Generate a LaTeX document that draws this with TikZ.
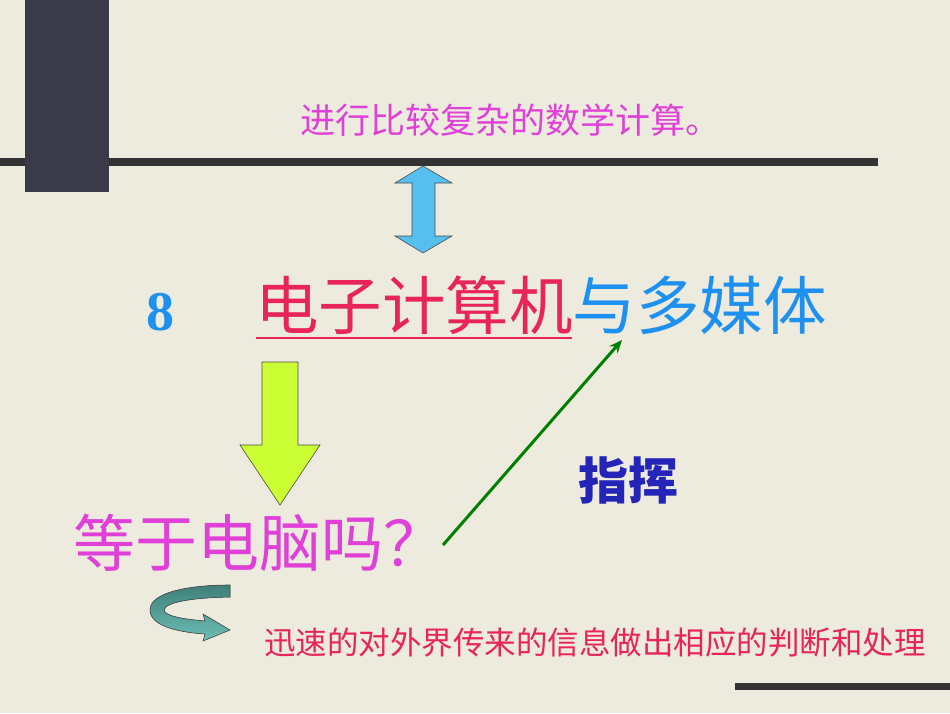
\documentclass[tikz,border=0pt]{standalone}
\usepackage{fontspec}
\usetikzlibrary{arrows.meta}
\newfontfamily\cjk{Noto Sans CJK SC}
\newfontfamily\serifb{Liberation Serif}
\begin{document}
\begin{tikzpicture}[x=1pt,y=-1pt,
  txt/.style={inner sep=0pt,font=\cjk}]
\definecolor{bg}{HTML}{ECEBDD}
\definecolor{mag}{HTML}{E040D8}
\definecolor{rd}{HTML}{E8245A}
\definecolor{bl}{HTML}{1E90F0}
\definecolor{skyb}{HTML}{55BFEF}
\definecolor{lime}{HTML}{CCFF33}
\definecolor{teal1}{HTML}{6CBFB5}
\definecolor{teal2}{HTML}{3F7F7A}
\definecolor{ind}{HTML}{2424B8}
\definecolor{blk}{HTML}{3A3A48}
\fill[bg] (0,0) rectangle (950,713);
\useasboundingbox (0,0) rectangle (950,713);
\fill[black!80] (0,158) rectangle (878,166);
\fill[black!80] (735,683) rectangle (950,690);
\fill[blk] (25,0) rectangle (109,192);
\node[txt,text=mag,font=\cjk\fontsize{35}{36}\selectfont] (t1) at (510,120) {进行比较复杂的数学计算。};
% double arrow
\filldraw[fill=skyb,draw=black!70,line width=0.6pt] (423,166) -- (452,183) -- (435,183) -- (435,236) -- (452,236) -- (423,253) -- (395,236) -- (412,236) -- (412,183) -- (395,183) -- cycle;
\node[inner sep=0pt,text=bl,font=\serifb\bfseries\fontsize{56}{56}\selectfont] (eight) at (160,312) {8};
\node[txt,anchor=west,font=\cjk\fontsize{63.5}{64}\selectfont] (title) at (255,305) {\textcolor{rd}{电子计算机}\textcolor{bl}{与多媒体}};
\draw[rd,line width=2.5pt] (256,338) -- (572,338);
% down arrow
\filldraw[fill=lime,draw=black!70,line width=0.6pt] (262,362) -- (298,362) -- (298,445) -- (320,445) -- (280,505) -- (240,445) -- (262,445) -- cycle;
\node[txt,anchor=west,text=mag,font=\cjk\fontsize{62}{62}\selectfont] (q) at (73,543) {等于电脑吗？};
\coordinate (ge) at (443,545);
\coordinate (gt) at (622,340);
\draw[green!50!black,line width=3pt,-{Stealth[length=13pt,width=11pt]}] (ge) -- (gt);
\node[txt,text=ind,font=\cjk\bfseries\fontsize{50}{50}\selectfont] (zh) at (628,480) {指挥};
% curved arrow
\filldraw[top color=teal2,bottom color=teal1,draw=black!70,line width=0.6pt]
  (230,585) -- (230,597) .. controls (180,598) and (160,605) .. (165,612)
  .. controls (170,618) and (195,620) .. (205,621) -- (203,614) -- (230,630) -- (203,641) -- (205,634)
  .. controls (175,632) and (150,625) .. (150,610)
  .. controls (150,592) and (190,585) .. cycle;
\node[txt,anchor=west,text=rd,font=\cjk\fontsize{31.5}{32}\selectfont] (t2) at (264,642) {迅速的对外界传来的信息做出相应的判断和处理};
\end{tikzpicture}
\end{document}
